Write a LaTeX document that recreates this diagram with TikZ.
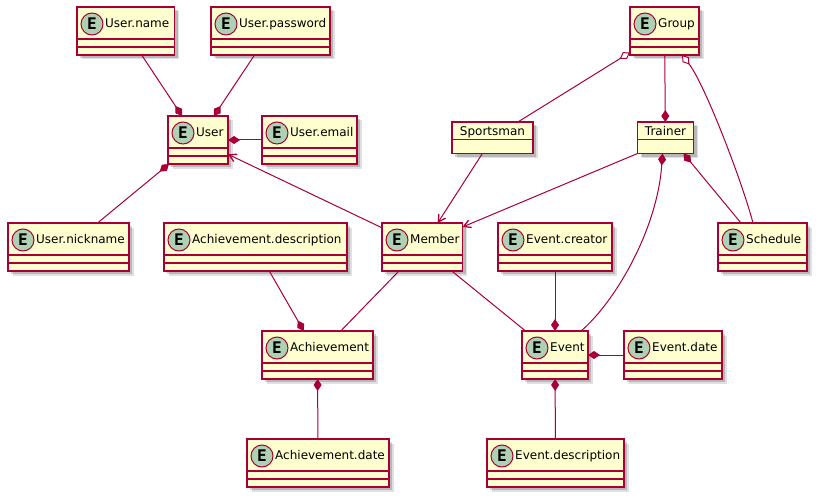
\documentclass[tikz,border=0pt]{standalone}
\usepackage{fontspec}
\setmainfont{DejaVu Sans}
\newfontfamily\circfont{DejaVu Sans Mono}
\usetikzlibrary{arrows.meta}
\definecolor{bordc}{HTML}{A80036}
\definecolor{boxc}{HTML}{FEFECE}
\definecolor{circc}{HTML}{ADD1B2}
\tikzset{
  boxnode/.style={draw=bordc, fill=boxc, line width=1.5pt, rectangle, inner sep=0pt, outer sep=0pt},
  shadowa/.style={fill=black, opacity=0.12},
  shadowb/.style={fill=black, opacity=0.18},
  divline/.style={draw=bordc, line width=1.5pt},
  ecirc/.style={circle, draw=bordc, line width=1pt, fill=circc, minimum size=22pt, inner sep=0pt,
    font=\circfont\bfseries\fontsize{16}{16}\selectfont},
  lbl/.style={anchor=base west, inner sep=0pt, font=\fontsize{12}{14}\selectfont},
  edge/.style={draw=bordc, line width=1pt},
  comp/.style={edge, -{Diamond[length=12pt,width=8pt]}},
  aggr/.style={edge, -{Diamond[open,fill=white,length=12pt,width=8pt]}},
  assoc/.style={edge, -{Straight Barb[length=7pt,width=8pt,line width=1.3pt]}},
}
\newcommand\ent[5]{%
  \fill[shadowa] (#2+4.5,#3+4.5) rectangle ++(#4,48);
  \fill[shadowb] (#2+3,#3+3) rectangle ++(#4,48);
  \node[boxnode, anchor=north west, minimum width=#4pt, minimum height=48pt] (#1) at (#2,#3) {};
  \draw[divline] ([yshift=-32pt]#1.north west) -- ([yshift=-32pt]#1.north east);
  \draw[divline] ([yshift=-40pt]#1.north west) -- ([yshift=-40pt]#1.north east);
  \node[ecirc] (#1-c) at ([xshift=15pt,yshift=-17pt]#1.north west) {E};
  \node[lbl] (#1-t) at ([xshift=28pt,yshift=-20.5pt]#1.north west) {#5};
}
\newcommand\cls[5]{%
  \fill[shadowa] (#2+4.5,#3+4.5) rectangle ++(#4,31.5);
  \fill[shadowb] (#2+3,#3+3) rectangle ++(#4,31.5);
  \node[boxnode, anchor=north west, minimum width=#4pt, minimum height=31.5pt] (#1) at (#2,#3) {};
  \draw[divline] ([yshift=-17.5pt]#1.north west) -- ([yshift=-17.5pt]#1.north east);
  \node[lbl, anchor=base] (#1-t) at ([yshift=-13.5pt]#1.north) {#5};
}
\begin{document}
\begin{tikzpicture}[x=1pt, y=-1pt]
\useasboundingbox (0,0) rectangle (819,500);
% entities
\ent{uname}{77}{7}{97.5}{User.name}
\ent{upass}{211}{7}{119}{User.password}
\ent{group}{630}{7}{69}{Group}
\ent{user}{168}{116}{60}{User}
\ent{uemail}{262}{116}{95}{User.email}
\cls{sports}{452}{122}{81}{Sportsman}
\cls{trainer}{637.5}{122}{56}{Trainer}
\ent{unick}{8}{223}{121}{User.nickname}
\ent{adesc}{164}{223}{183}{Achievement.description}
\ent{member}{382}{223}{80.5}{Member}
\ent{ecreat}{498}{223}{114}{Event.creator}
\ent{sched}{718}{223}{89}{Schedule}
\ent{achiev}{262}{331}{111}{Achievement}
\ent{event}{522}{331}{66}{Event}
\ent{edate}{624}{331}{98}{Event.date}
\ent{adate}{247}{439}{142}{Achievement.date}
\ent{edesc}{487}{439}{137}{Event.description}
% connectors
\draw[comp] (uname) -- (user);
\draw[comp] (upass) -- (user);
\draw[comp] (uemail) -- (user);
\draw[comp] (unick) -- (user);
\draw[assoc] (member) -- (user);
\draw[aggr] (sports) -- (group);
\draw[comp] (group) -- (trainer);
\draw[aggr] ([xshift=35pt]sched.north west) .. controls +(-12,-45) and +(22,28) .. ([xshift=-17pt]group.south east);
\draw[assoc] (sports) -- (member);
\draw[assoc] (trainer.south west) -- ([yshift=-4pt]member.north east);
\draw[comp] ([xshift=59pt]event.north west) .. controls +(35,-30) and +(-5,75) .. ([xshift=25pt]trainer.south west);
\draw[comp] ([xshift=23pt]sched.north west) -- ([xshift=46pt]trainer.south west);
\draw[comp] (adesc) -- (achiev);
\draw[edge] (member) -- (achiev);
\draw[edge] (member) -- (event);
\draw[comp] (ecreat) -- (event);
\draw[comp] (edate) -- (event);
\draw[comp] (adate) -- (achiev);
\draw[comp] (edesc) -- (event);
\end{tikzpicture}
\end{document}
